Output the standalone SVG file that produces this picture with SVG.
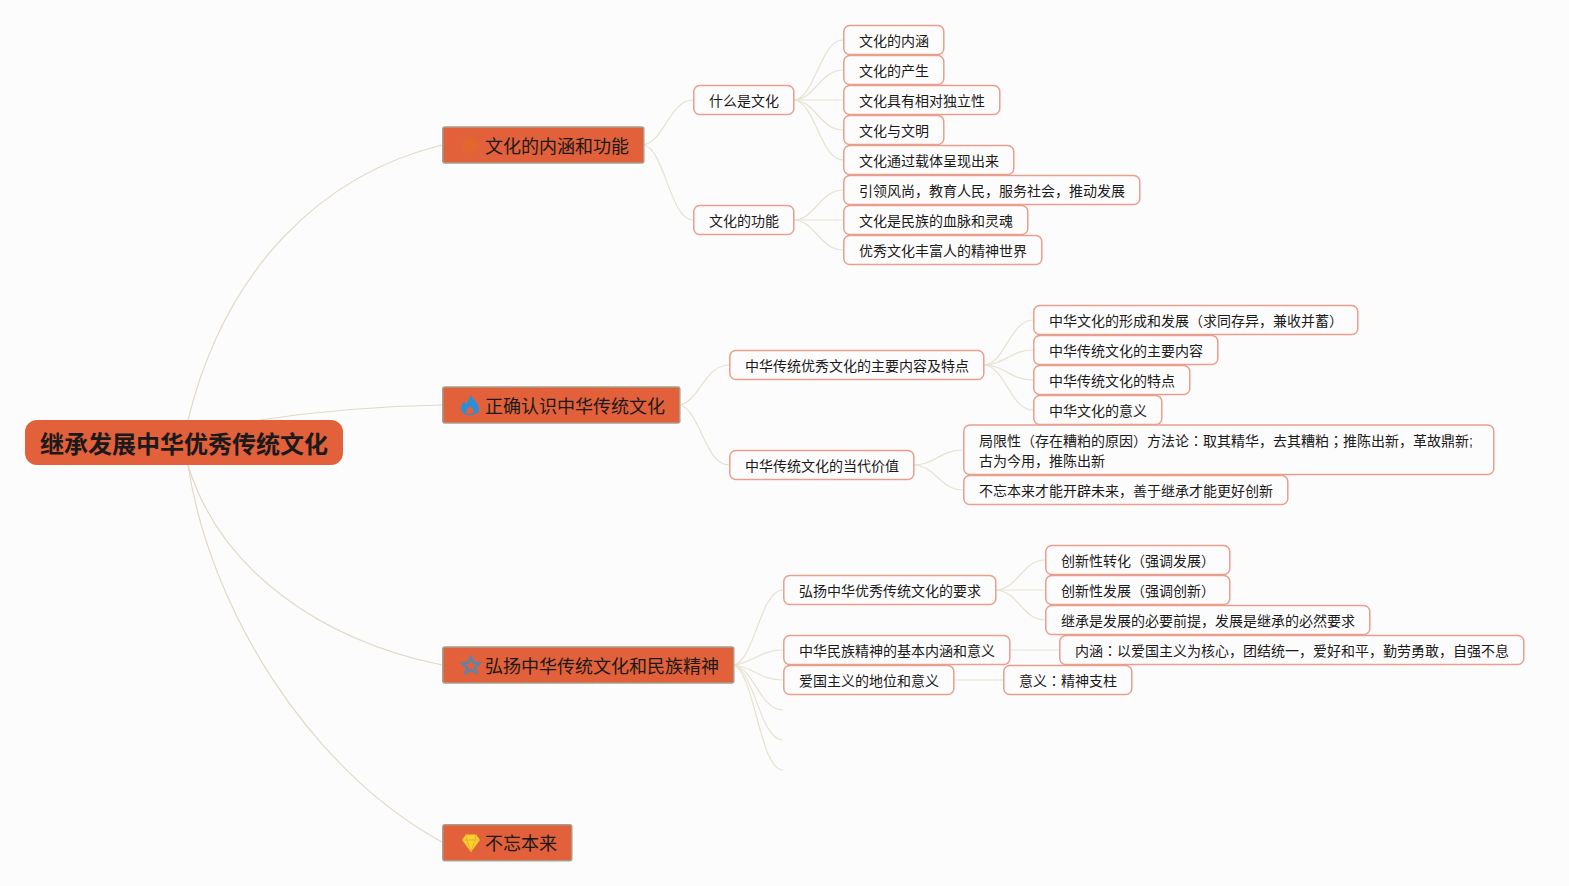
<svg xmlns="http://www.w3.org/2000/svg" width="1569" height="886" viewBox="0 0 1569 886">
<style>
text{font-family:"Liberation Sans","Noto Sans CJK SC",sans-serif;fill:#1a1a1a}
tspan.p{font-family:"Noto Sans CJK JP",sans-serif}
.leaf rect{fill:#fdfcfc;stroke:#e99f8e;stroke-width:1.5;transform:translate(.3px,0)}
.leaf text{font-size:14px;transform:translate(.5px,0)}
.main rect{fill:#e2603a;stroke:#a5a08c;stroke-width:1.5;transform:translate(.3px,0)}
.main text{font-size:18px}
.c path{fill:none;stroke:#e8e1d0;stroke-width:1.2}
.r path{fill:none;stroke:#e3d9c6;stroke-width:1.2}
</style>
<rect width="1569" height="886" fill="#fcfcfc"/>
<g id="connectors">
<g class="r">
<path d="M188 420C225 270 320 175 442 145"/>
<path d="M260 420C320 411 385 406 442 405"/>
<path d="M188 465C220 570 320 640 442 665"/>
<path d="M188 465C210 610 310 770 442 842"/>
</g>
<g class="c">
<path d="M644 145C665 140 670 100 693 100"/>
<path d="M644 145C665 150 670 220 693 220"/>
<path d="M793 100C815 100 820 40 843 40"/>
<path d="M793 100C815 100 820 70 843 70"/>
<path d="M793 100H843"/>
<path d="M793 100C815 100 820 130 843 130"/>
<path d="M793 100C815 100 820 160 843 160"/>
<path d="M793 220C815 220 820 190 843 190"/>
<path d="M793 220H843"/>
<path d="M793 220C815 220 820 250 843 250"/>
<path d="M680 405C700 400 705 365 729 365"/>
<path d="M680 405C700 410 705 465 729 465"/>
<path d="M983 365C1005 365 1010 320 1033 320"/>
<path d="M983 365C1005 365 1010 350 1033 350"/>
<path d="M983 365C1005 365 1010 380 1033 380"/>
<path d="M983 365C1005 365 1010 410 1033 410"/>
<path d="M913 465C935 465 940 450 963 450"/>
<path d="M913 465C935 465 940 490 963 490"/>
<path d="M734 665C755 660 760 590 783 590"/>
<path d="M734 665C755 662 760 650 783 650"/>
<path d="M734 665C755 668 760 680 783 680"/>
<path d="M734 665C755 670 760 710 783 710"/>
<path d="M734 665C755 672 760 740 783 740"/>
<path d="M734 665C755 675 760 770 783 770"/>
<path d="M995 590C1018 590 1022 560 1045 560"/>
<path d="M995 590H1045"/>
<path d="M995 590C1018 590 1022 620 1045 620"/>
<path d="M1009 650H1059"/>
<path d="M953 680H1003"/>
</g>
</g>
<g id="root"><rect x="25" y="420" width="318" height="45" rx="12" fill="#e2603a"/><text x="40" y="453" font-size="24" font-weight="bold" fill="#0d0d0d">继承发展中华优秀传统文化</text></g>
<g id="n1" class="main"><rect x="442.500" y="127" width="201" height="36" rx="2"/><circle cx="470" cy="145" r="8" fill="#e4662f"/><text x="485" y="152.500">文化的内涵和功能</text></g>
<g id="n2" class="main"><rect x="442.500" y="387" width="237" height="36" rx="2"/><path fill-rule="evenodd" d="M471 395C473 400 479 403 479 409C479 413 475 415 470 415C465 415 461 413 461 408C461 405 463 403 464 401C465 403 466 404 467 404C468 401 469 398 471 395ZM470 406C468 408 466 410 466 412C466 413.500 468 414 470 414C472 414 474 413.500 474 412C474 410 472 408 470 406Z" fill="#2a8fd8"/><text x="485" y="412.500">正确认识中华传统文化</text></g>
<g id="n3" class="main"><rect x="442.500" y="647" width="291" height="36" rx="2"/><path d="M471 657L473.500 662.500L479.500 663.200L475 667.200L476.300 673L471 670L465.700 673L467 667.200L462.500 663.200L468.500 662.500Z" fill="none" stroke="#5c85a8" stroke-width="2.500"/><text x="485" y="672.500">弘扬中华传统文化和民族精神</text></g>
<g id="n4" class="main"><rect x="442.500" y="824.800" width="129" height="36" rx="2"/><path d="M466 834.500H476L480 840L471 852L462 840Z" fill="#f8d030"/><path d="M462 840H480M467 840L471 852L475 840M466 834.500L467 840M476 834.500L475 840" fill="none" stroke="#e8a828" stroke-width=".8"/><text x="485" y="850">不忘本来</text></g>
<g id="a1" class="leaf"><rect x="693.500" y="85.500" width="100" height="29" rx="6"/><text x="708.500" y="106">什么是文化</text></g>
<g id="a2" class="leaf"><rect x="693.500" y="205.500" width="100" height="29" rx="6"/><text x="708.500" y="226">文化的功能</text></g>
<g id="a11" class="leaf"><rect x="843.500" y="25.500" width="100" height="29" rx="6"/><text x="858.500" y="46">文化的内涵</text></g>
<g id="a12" class="leaf"><rect x="843.500" y="55.500" width="100" height="29" rx="6"/><text x="858.500" y="76">文化的产生</text></g>
<g id="a13" class="leaf"><rect x="843.500" y="85.500" width="156" height="29" rx="6"/><text x="858.500" y="106">文化具有相对独立性</text></g>
<g id="a14" class="leaf"><rect x="843.500" y="115.500" width="100" height="29" rx="6"/><text x="858.500" y="136">文化与文明</text></g>
<g id="a15" class="leaf"><rect x="843.500" y="145.500" width="170" height="29" rx="6"/><text x="858.500" y="166">文化通过载体呈现出来</text></g>
<g id="a21" class="leaf"><rect x="843.500" y="175.500" width="296" height="29" rx="6"/><text x="858.500" y="196">引领风尚，教育人民，服务社会，推动发展</text></g>
<g id="a22" class="leaf"><rect x="843.500" y="205.500" width="184" height="29" rx="6"/><text x="858.500" y="226">文化是民族的血脉和灵魂</text></g>
<g id="a23" class="leaf"><rect x="843.500" y="235.500" width="198" height="29" rx="6"/><text x="858.500" y="256">优秀文化丰富人的精神世界</text></g>
<g id="b1" class="leaf"><rect x="729.500" y="350.500" width="254" height="29" rx="6"/><text x="744.500" y="371">中华传统优秀文化的主要内容及特点</text></g>
<g id="b2" class="leaf"><rect x="729.500" y="450.500" width="184" height="29" rx="6"/><text x="744.500" y="471">中华传统文化的当代价值</text></g>
<g id="b11" class="leaf"><rect x="1033.500" y="305.500" width="324" height="29" rx="6"/><text x="1048.500" y="326">中华文化的形成和发展（求同存异，兼收并蓄）</text></g>
<g id="b12" class="leaf"><rect x="1033.500" y="335.500" width="184" height="29" rx="6"/><text x="1048.500" y="356">中华传统文化的主要内容</text></g>
<g id="b13" class="leaf"><rect x="1033.500" y="365.500" width="156" height="29" rx="6"/><text x="1048.500" y="386">中华传统文化的特点</text></g>
<g id="b14" class="leaf"><rect x="1033.500" y="395.500" width="128" height="29" rx="6"/><text x="1048.500" y="416">中华文化的意义</text></g>
<g id="b21" class="leaf"><rect x="963.500" y="425" width="530" height="49.500" rx="6"/><text x="978.500" y="446">局限性（存在糟粕的原因）方法论<tspan class="p">：</tspan>取其精华，去其糟粕<tspan class="p">；</tspan>推陈出新，革故鼎新;</text><text x="978.500" y="466">古为今用，推陈出新</text></g>
<g id="b22" class="leaf"><rect x="963.500" y="475.500" width="324" height="29" rx="6"/><text x="978.500" y="496">不忘本来才能开辟未来，善于继承才能更好创新</text></g>
<g id="c1" class="leaf"><rect x="783.500" y="575.500" width="212" height="29" rx="6"/><text x="798.500" y="596">弘扬中华优秀传统文化的要求</text></g>
<g id="c2" class="leaf"><rect x="783.500" y="635.500" width="226" height="29" rx="6"/><text x="798.500" y="656">中华民族精神的基本内涵和意义</text></g>
<g id="c3" class="leaf"><rect x="783.500" y="665.500" width="170" height="29" rx="6"/><text x="798.500" y="686">爱国主义的地位和意义</text></g>
<g id="c11" class="leaf"><rect x="1045.500" y="545.500" width="184" height="29" rx="6"/><text x="1060.500" y="566">创新性转化（强调发展）</text></g>
<g id="c12" class="leaf"><rect x="1045.500" y="575.500" width="184" height="29" rx="6"/><text x="1060.500" y="596">创新性发展（强调创新）</text></g>
<g id="c13" class="leaf"><rect x="1045.500" y="605.500" width="324" height="29" rx="6"/><text x="1060.500" y="626">继承是发展的必要前提，发展是继承的必然要求</text></g>
<g id="c21" class="leaf"><rect x="1059.500" y="635.500" width="464" height="29" rx="6"/><text x="1074.500" y="656">内涵<tspan class="p">：</tspan>以爱国主义为核心，团结统一，爱好和平，勤劳勇敢，自强不息</text></g>
<g id="c31" class="leaf"><rect x="1003.500" y="665.500" width="128" height="29" rx="6"/><text x="1018.500" y="686">意义<tspan class="p">：</tspan>精神支柱</text></g>
</svg>
